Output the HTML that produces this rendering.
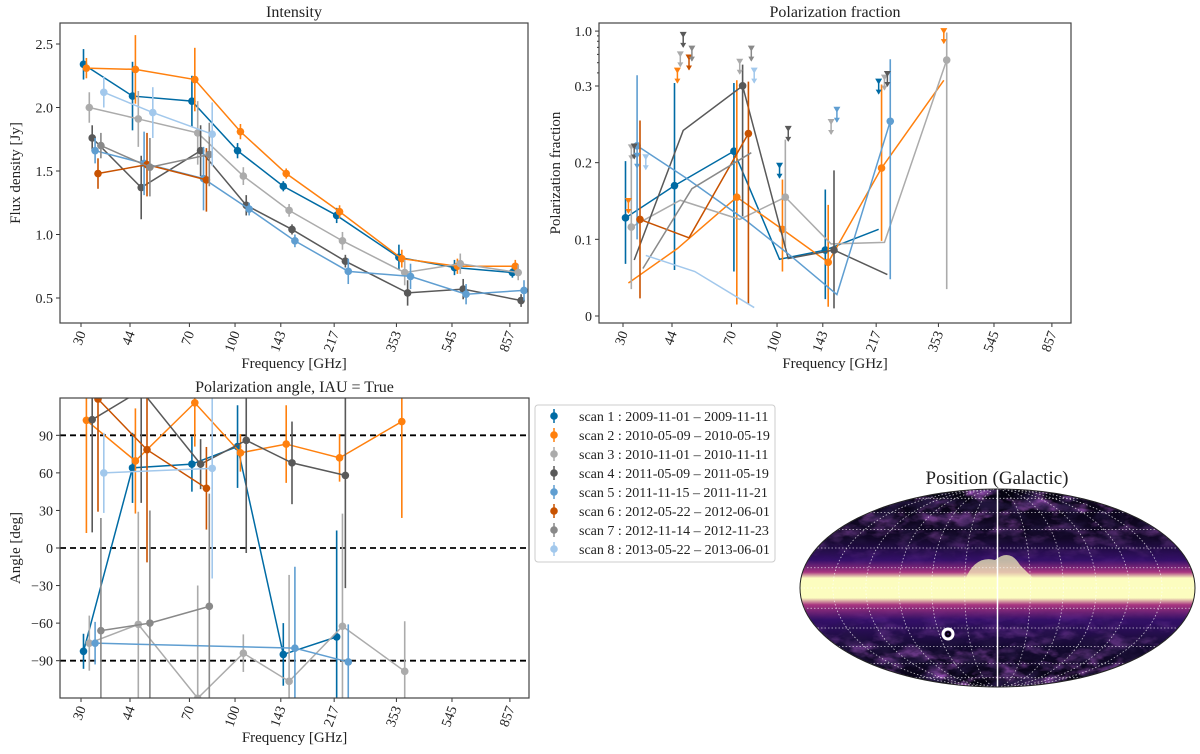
<!DOCTYPE html>
<html><head><meta charset="utf-8">
<style>
html,body{margin:0;padding:0;background:#fff;width:1200px;height:754px;overflow:hidden;}
svg{display:block;font-family:"Liberation Serif",serif;}
</style></head>
<body>
<svg id="fig" width="1200" height="754" viewBox="0 0 1200 754" xmlns="http://www.w3.org/2000/svg">
<defs>
<clipPath id="c1"><rect x="60" y="23" width="468" height="300"/></clipPath>
<clipPath id="c2"><rect x="599" y="23" width="472" height="300"/></clipPath>
<clipPath id="c3"><rect x="60" y="398" width="469" height="300"/></clipPath>
<clipPath id="cm"><ellipse cx="997.5" cy="588" rx="197.5" ry="99"/></clipPath>
<linearGradient id="band" x1="0" y1="0" x2="0" y2="1">
<stop offset="0" stop-color="#05030f"/>
<stop offset="0.25" stop-color="#120828"/>
<stop offset="0.36" stop-color="#35106a"/>
<stop offset="0.42" stop-color="#a83580"/>
<stop offset="0.45" stop-color="#fcfdbf"/>
<stop offset="0.55" stop-color="#fcfdbf"/>
<stop offset="0.585" stop-color="#a83580"/>
<stop offset="0.66" stop-color="#35106a"/>
<stop offset="0.8" stop-color="#140a30"/>
<stop offset="1" stop-color="#05030f"/>
</linearGradient>
<filter id="noise" x="0" y="0" width="1" height="1">
<feTurbulence type="fractalNoise" baseFrequency="0.04 0.08" numOctaves="4" seed="7"/>
<feColorMatrix type="matrix" values="0 0 0 0 0.38  0 0 0 0 0.1  0 0 0 0 0.55  3.5 0 0 0 -1.6"/>
</filter>
<filter id="noise2" x="0" y="0" width="1" height="1">
<feTurbulence type="fractalNoise" baseFrequency="0.05 0.09" numOctaves="4" seed="2"/>
<feColorMatrix type="matrix" values="0 0 0 0 0.02  0 0 0 0 0.01  0 0 0 0 0.06  3 0 0 0 -1.2"/>
</filter>
<linearGradient id="fade" x1="0" y1="0" x2="0" y2="1">
<stop offset="0" stop-color="#fff" stop-opacity="1"/>
<stop offset="0.4" stop-color="#fff" stop-opacity="0"/>
<stop offset="0.6" stop-color="#fff" stop-opacity="0"/>
<stop offset="1" stop-color="#fff" stop-opacity="1"/>
</linearGradient>
<mask id="bandmask"><rect x="800" y="489" width="395" height="198" fill="url(#fade)"/></mask>
</defs>
<g id="p1"></g>
<g id="p2"></g>
<g id="p3"></g>
<g id="leg"></g>
<g id="map">
<text x="997" y="484" font-size="19" text-anchor="middle" fill="#222">Position (Galactic)</text>
<g clip-path="url(#cm)">
<rect x="800" y="489" width="395" height="198" fill="url(#band)"/>
<rect x="800" y="489" width="395" height="198" filter="url(#noise)" mask="url(#bandmask)"/>
<rect x="800" y="489" width="395" height="198" filter="url(#noise2)" mask="url(#bandmask)"/>
<rect x="800" y="580" width="395" height="17" fill="#fcfdbf"/>
<path d="M965 580 Q975 555 995 560 Q1010 548 1020 565 L1035 580 Z" fill="#fcfdbf" opacity="0.7"/>
<g id="grid" stroke="#fff" stroke-width="0.8" stroke-dasharray="1.5,2" fill="none" opacity="0.75"></g>
<line x1="997.5" y1="489" x2="997.5" y2="687" stroke="#fff" stroke-width="1.5"/>
</g>
<ellipse cx="997.5" cy="588" rx="197.5" ry="99" fill="none" stroke="#222" stroke-width="1"/>
<circle cx="948" cy="634" r="5" fill="none" stroke="#fff" stroke-width="3"/>
<circle cx="948" cy="634" r="2" fill="none" stroke="#000" stroke-width="1.5"/>
</g>
</svg>
<script>
const NS="http://www.w3.org/2000/svg";
const freqs=[30,44,70,100,143,217,353,545,857];
const colors=["#006BA4","#FF800E","#ABABAB","#595959","#5F9ED1","#C85200","#898989","#A2C8EC"];
const legendLabels=["scan  1 :  2009-11-01 – 2009-11-11","scan  2 :  2010-05-09 – 2010-05-19","scan  3 :  2010-11-01 – 2010-11-11","scan  4 :  2011-05-09 – 2011-05-19","scan  5 :  2011-11-15 – 2011-11-21","scan  6 :  2012-05-22 – 2012-06-01","scan  7 :  2012-11-14 – 2012-11-23","scan  8 :  2013-05-22 – 2013-06-01"];
// Intensity
const intIdx=[[0,1,2,3,4,5,6,7,8],[0,1,2,3,4,5,6,7,8],[0,1,2,3,4,5,6,7,8],[0,1,2,3,4,5,6,7,8],[0,1,2,3,4,5,6,7,8],[0,1,2],[0,1,2],[0,1,2]];
const intS1=[2.34,2.09,2.05,1.66,1.38,1.15,0.82,0.74,0.70];
const intS2=[2.31,2.30,2.22,1.81,1.48,1.18,0.81,0.75,0.75];
const intS3=[2.00,1.91,1.80,1.46,1.19,0.95,0.70,0.77,0.70];
const intS4=[1.76,1.37,1.66,1.23,1.04,0.79,0.54,0.57,0.48];
const intS5=[1.66,1.56,1.44,1.20,0.95,0.71,0.67,0.53,0.56];
const intS6=[1.48,1.55,1.43];
const intS7=[1.70,1.53,1.63];
const intS8=[2.12,1.96,1.79];
const intErr=[[0.12,0.27,0.2,0.06,0.04,0.06,0.1,0.06,0.04],[0.08,0.27,0.25,0.06,0.04,0.05,0.07,0.06,0.05],[0.12,0.22,0.25,0.07,0.05,0.07,0.1,0.08,0.06],[0.1,0.25,0.2,0.08,0.04,0.05,0.1,0.08,0.05],[0.1,0.25,0.25,0.05,0.05,0.1,0.1,0.08,0.08],[0.12,0.25,0.25],[0.1,0.23,0.25],[0.12,0.2,0.25]];
const intTicks=[0.5,1.0,1.5,2.0,2.5];
const intTickLabels=["0.5","1.0","1.5","2.0","2.5"];
// Polarization fraction
const pfIdx=[[0,1,2,3,4,5],[0,1,2,3,4,5,6],[0,1,2,3,4,5,6],[0,1,2,3,4,5],[0,1,2,3,4,5],[0,1,2],[0,1,2],[0,1,2]];
const pfS1=[0.128,0.170,0.215,0.074,0.086,0.113];
const pfS2=[0.043,0.088,0.155,0.113,0.070,0.193,0.34];
const pfS3=[0.116,0.151,0.126,0.155,0.094,0.096,0.53];
const pfS4=[0.073,0.242,0.301,0.075,0.086,0.054];
const pfS5=[0.222,0.18,0.125,0.078,0.028,0.254];
const pfS6=[0.126,0.102,0.238];
const pfS7=[0.062,0.166,0.213];
const pfS8=[0.079,0.058,0.011];
const pfMarker=[[1,1,1,0,1,0],[0,0,1,1,1,1,0],[1,0,0,1,0,0,1],[0,0,1,0,1,0],[1,0,0,0,0,1],[1,0,1],[0,0,0],[0,0,0]];
const pfLo=[[0.068,0.06,0.058,null,0.022,null],[null,null,0.015,0.058,0.012,0.098,null],[0.035,null,null,0.09,null,null,0.035],[null,null,0.13,null,0.01,null],[0.1,null,null,null,null,0.048],[0.023,null,0.015],[null,null,null],[null,null,null]];
const pfHi=[[0.202,0.32,0.32,null,0.165,null],[null,null,0.34,0.178,0.145,0.31,null],[0.21,null,null,0.23,null,null,0.97],[null,null,0.48,null,0.19,null],[0.38,null,null,null,null,0.54],[0.255,null,0.33],[null,null,null],[null,null,null]];
const pfLimScan=[0,0,1,1,1,2,2,2,2,2,3,3,3,3,4,4,5,6,6,7,7];
const pfLimFreq=[3,5,0,1,6,0,1,2,4,5,0,1,3,5,0,4,1,1,2,0,2];
const pfLimVal=[0.196,0.33,0.15,0.42,1.0,0.22,0.60,0.51,0.253,0.36,0.221,0.92,0.244,0.39,0.209,0.269,0.56,0.68,0.68,0.207,0.42];
const pfTicks=[0,0.1,0.2,0.3,1.0];
const pfTickLabels=["0","0.1","0.2","0.3","1.0"];
// Polarization angle
const angIdx=[[0,1,2,3,4,5],[0,1,2,3,4,5,6],[0,1,2,3,4,5,6],[0,1,2,3,4,5],[0,4,5],[0,1,2],[0,1,2],[0,2]];
const angS1=[-82.5,64,67,81,-85,-71];
const angS2=[102,69.5,116,76,83,72,101];
const angS3=[-76,-61,-120,-84,-106.5,-62.5,-98.5];
const angS4=[102.5,126,67,86,68,58];
const angS5=[-76,-80,-91];
const angS6=[119,78.5,47.7];
const angS7=[-66,-60,-46.6];
const angS8=[60,63.6];
const angErr=[[14,28,22,33,25,85],[90,42,35,15,31,19,77],[22,90,90,15,85,90,40],[90,90,20,90,33,90],[17,65,30],[90,90,33],[90,90,90],[32,88]];
const angTicks=[-90,-60,-30,0,30,60,90];
const angTickLabels=["−90","−60","−30","0","30","60","90"];

const intVals=[intS1,intS2,intS3,intS4,intS5,intS6,intS7,intS8];
const pfVals=[pfS1,pfS2,pfS3,pfS4,pfS5,pfS6,pfS7,pfS8];
const angVals=[angS1,angS2,angS3,angS4,angS5,angS6,angS7,angS8];

function el(tag,attrs,parent){const e=document.createElementNS(NS,tag);for(const k in attrs)e.setAttribute(k,attrs[k]);parent.appendChild(e);return e;}
function xs(x30){return f=>x30+294.6*Math.log10(f/30);}
function off(i){return 2.5+i*2.9;}
function clampY(y,top,bot){return Math.max(top,Math.min(bot,y));}

function frame(g,x0,y0,w,h,x30,title,ylabel,ylx,xlabelY,ticks,labels,Y,minor){
  const xt=xs(x30);
  const t=el('text',{x:x0+w/2,y:y0-6,'font-size':16,'text-anchor':'middle',fill:'#222'},g);t.textContent=title;
  
  
  freqs.forEach(f=>{const x=xt(f);el('line',{x1:x,x2:x,y1:y0+h,y2:y0+h+4,stroke:'#333'},g);
    const tl=el('text',{transform:`translate(${x+5},${y0+h+10}) rotate(-70)`,'font-size':14,'text-anchor':'end',fill:'#222'},g);tl.textContent=f;
    
    });
  const xl=el('text',{x:x0+w/2,y:xlabelY,'font-size':15,'text-anchor':'middle',fill:'#222'},g);xl.textContent='Frequency [GHz]';
  
  
  ticks.forEach((v,i)=>{const y=Y(v);el('line',{x1:x0-4,x2:x0,y1:y,y2:y,stroke:'#333'},g);
    const tl=el('text',{x:x0-7,y:y+5,'font-size':14,'text-anchor':'end',fill:'#222'},g);tl.textContent=labels[i];
    
    });
  (minor||[]).forEach(v=>{const y=Y(v);el('line',{x1:x0-2,x2:x0,y1:y,y2:y,stroke:'#333'},g);});
  const yl=el('text',{transform:`translate(${ylx},${y0+h/2}) rotate(-90)`,'font-size':15,'text-anchor':'middle',fill:'#222'},g);yl.textContent=ylabel;
  
  
  return xt;
}
function box(g,x0,y0,w,h){el('rect',{x:x0,y:y0,width:w,height:h,fill:'none',stroke:'#444','stroke-width':1.2},g);}

function drawSeries(g,clip,xt,Y,idxs,vals,markers,lo,hi,err,top,bot){
  const cg=el('g',{'clip-path':`url(#${clip})`},g);
  idxs.forEach((ix,s)=>{
    const c=colors[s];const sg=el('g',{},cg);
    
    
    const pts=ix.map((fi,k)=>[xt(freqs[fi])+off(s),Y(vals[s][k])]);
    el('polyline',{points:pts.map(p=>p.join(',')).join(' '),fill:'none',stroke:c,'stroke-width':1.5},sg);
    ix.forEach((fi,k)=>{
      const [x,y]=pts[k];let y1=null,y2=null;
      if(err){y1=Y(vals[s][k]-err[s][k]);y2=Y(vals[s][k]+err[s][k]);}
      else if(lo&&lo[s][k]!=null){y1=Y(lo[s][k]);y2=Y(hi[s][k]);}
      if(y1!=null)el('line',{x1:x,x2:x,y1:clampY(y1,top,bot),y2:clampY(y2,top,bot),stroke:c,'stroke-width':1.6},sg);
      if(!markers||markers[s][k]){const m=el('circle',{cx:x,cy:y,r:3.8,fill:c},sg);
        
        }
    });
  });
}

// Panel 1
const g1=document.getElementById('p1');
const Y1=v=>298-(v-0.5)*127;
const xt1=frame(g1,60,23,468,300,81,'Intensity','Flux density [Jy]',20,368,intTicks,intTickLabels,Y1);
drawSeries(g1,'c1',xt1,Y1,intIdx,intVals,null,null,null,intErr,23,323);
box(g1,60,23,468,300);

// Panel 2
const g2=document.getElementById('p2');
const Y2=v=>v<=0.3?316-v*766.7:86-105*Math.log10(v/0.3);
const xt2=frame(g2,599,23,472,300,623,'Polarization fraction','Polarization fraction',560,368,pfTicks,pfTickLabels,Y2,[0.4,0.5,0.6,0.7,0.8,0.9]);
drawSeries(g2,'c2',xt2,Y2,pfIdx,pfVals,pfMarker,pfLo,pfHi,null,23,323);
const lg=el('g',{'clip-path':'url(#c2)'},g2);
pfLimVal.forEach((v,i)=>{const s=pfLimScan[i];const c=colors[s];const x=xt2(freqs[pfLimFreq[i]])+off(s);const y=Y2(v);
  const a=el('g',{},lg);
  
  
  el('path',{d:`M${x-3.5} ${y-3}L${x+3.5} ${y-3}L${x} ${y+3}Z`,fill:c},a);
  el('line',{x1:x,x2:x,y1:y,y2:y+12,stroke:c,'stroke-width':1.5},a);
  el('path',{d:`M${x-3} ${y+8}L${x+3} ${y+8}L${x} ${y+13}Z`,fill:c},a);});
box(g2,599,23,472,300);

// Panel 3
const g3=document.getElementById('p3');
const Y3=v=>548-v*1.252;
const xt3=frame(g3,60,398,469,300,81,'Polarization angle, IAU = True','Angle [deg]',20,742,angTicks,angTickLabels,Y3);
[90,0,-90].forEach(v=>{const l=el('line',{x1:60,x2:529,y1:Y3(v),y2:Y3(v),stroke:'#000','stroke-width':1.8,'stroke-dasharray':'6,4'},g3);
  
  });
drawSeries(g3,'c3',xt3,Y3,angIdx,angVals,null,null,null,angErr,398,698);
box(g3,60,398,469,300);

// Legend
const lgd=document.getElementById('leg');
el('rect',{x:535,y:405,width:240,height:157,rx:3,fill:'#fff',stroke:'#ccc'},lgd);
legendLabels.forEach((t,i)=>{const y=416+i*19;const c=colors[i];
  const e=el('g',{},lgd);
  
  
  el('line',{x1:554,x2:554,y1:y-7,y2:y+7,stroke:c,'stroke-width':1.5},e);
  el('circle',{cx:554,cy:y,r:3.8,fill:c},e);
  const tx=el('text',{x:579,y:y+5,'font-size':14,fill:'#222'},e);tx.textContent=t;});

// Map grid
const gr=document.getElementById('grid');
for(let k=1;k<=6;k++){el('ellipse',{cx:997.5,cy:588,rx:197.5*k/6,ry:99},gr);}
[-75,-60,-45,-30,-15,15,30,45,60,75].forEach(lat=>{
  let th=lat*Math.PI/180;const phi=th;for(let i=0;i<20;i++){th=th-(2*th+Math.sin(2*th)-Math.PI*Math.sin(phi))/(2+2*Math.cos(2*th));}
  const y=588-99*Math.sin(th);el('line',{x1:800,x2:1195,y1:y,y2:y},gr);});
el('line',{x1:800,x2:1195,y1:588,y2:588},gr);
</script>
</body></html>
